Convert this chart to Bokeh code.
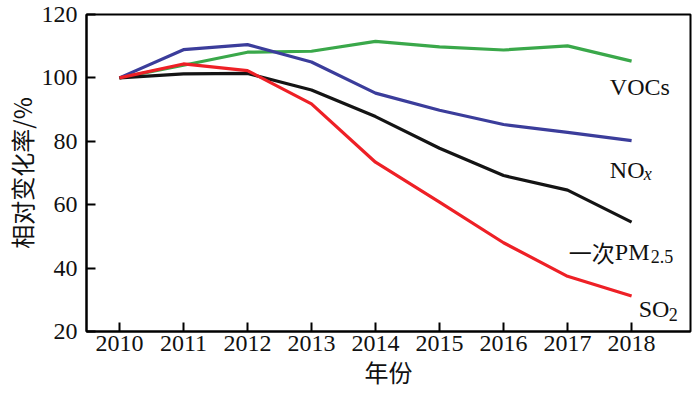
from bokeh.plotting import figure
from bokeh.models import Label, FixedTicker
from bokeh.embed import file_html
from bokeh.resources import INLINE

years = [2010, 2011, 2012, 2013, 2014, 2015, 2016, 2017, 2018]
vocs = [100, 104.0, 108.1, 108.4, 111.5, 109.8, 108.8, 110.1, 105.3]
nox = [100, 108.9, 110.5, 105.0, 95.2, 89.8, 85.3, 82.8, 80.2]
pm25 = [100, 101.3, 101.4, 96.2, 87.8, 77.8, 69.2, 64.6, 54.5]
so2 = [100, 104.4, 102.3, 91.8, 73.4, 60.8, 48.0, 37.4, 31.2]
y_ticks = [20, 40, 60, 80, 100, 120]

SERIF = "Liberation Serif"
CJK = "Noto Sans CJK SC"

p = figure(width=692, height=391, output_backend="svg", toolbar_location=None,
           x_range=(2009.486, 2018.92), y_range=(20, 120),
           min_border_left=84, min_border_right=2, min_border_top=14, min_border_bottom=59)

for ys, col in [(vocs, "#3aa84a"), (nox, "#3b3d9b"), (pm25, "#141414"), (so2, "#ee2026")]:
    p.line(years, ys, line_color=col, line_width=3.2)

p.xgrid.visible = False
p.ygrid.visible = False
p.outline_line_color = "black"
p.outline_line_width = 2
p.background_fill_color = "white"
p.border_fill_color = "white"

for ax in (p.xaxis[0], p.yaxis[0]):
    ax.axis_line_color = "black"
    ax.axis_line_width = 2
    ax.major_tick_line_width = 2
    ax.major_tick_in = 9
    ax.major_tick_out = 0
    ax.minor_tick_line_color = None
    ax.major_label_text_font = SERIF
    ax.major_label_text_font_size = "24px"
    ax.major_label_text_color = "#111111"
    ax.axis_label_text_font = CJK
    ax.axis_label_text_font_style = "normal"
    ax.axis_label_text_color = "#111111"

p.xaxis[0].ticker = FixedTicker(ticks=years)
p.yaxis[0].ticker = FixedTicker(ticks=y_ticks)
p.xaxis[0].axis_label = "年份"
p.yaxis[0].axis_label = "相对变化率/%"
p.xaxis[0].axis_label_text_font_size = "24px"
p.yaxis[0].axis_label_text_font_size = "24px"
p.xaxis[0].major_label_standoff = 4
p.yaxis[0].major_label_standoff = 9
p.xaxis[0].axis_label_standoff = 0
p.yaxis[0].axis_label_standoff = 0

def lab(x, y, text, size="24px", style="normal", xo=0, yo=0, font=SERIF):
    p.add_layout(Label(x=x, y=y, text=text, x_offset=xo, y_offset=yo,
                       text_font=font, text_font_size=size, text_font_style=style,
                       text_baseline="alphabetic", text_color="#111111"))

# VOCs
lab(2017.66, 97.1, "VOCs")
# NOx
lab(2017.66, 71.1, "NO")
lab(2017.66, 71.1, "x", size="18px", style="italic", xo=34, yo=-4)
# 一次PM2.5
lab(2017.02, 45.1, "一次", font=CJK, size="23px")
lab(2017.02, 45.1, "PM", xo=46)
lab(2017.02, 45.1, "2.5", size="18px", xo=82, yo=-5)
# SO2
lab(2018.11, 27.0, "SO")
lab(2018.11, 27.0, "2", size="18px", xo=30, yo=-5)

open("out.html", "w").write(file_html(p, INLINE))
